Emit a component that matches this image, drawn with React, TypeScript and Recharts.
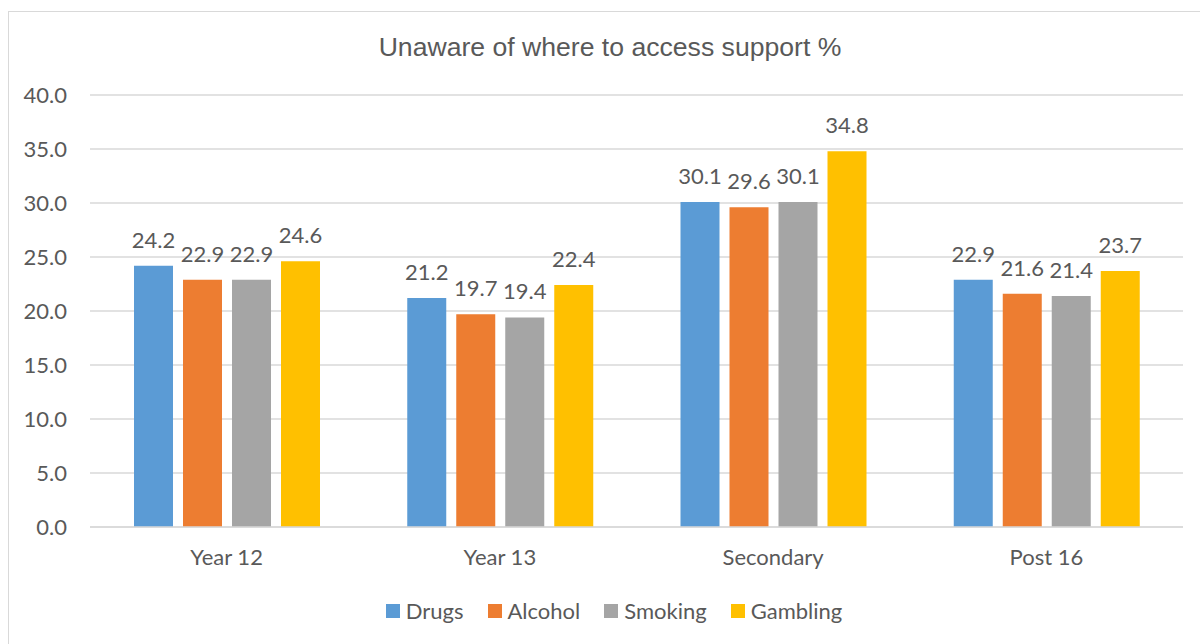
import { BarChart, Bar, XAxis, YAxis, CartesianGrid, LabelList } from "recharts";

const categories = ["Year 12", "Year 13", "Secondary", "Post 16"];
const drugs = [24.2, 21.2, 30.1, 22.9];
const alcohol = [22.9, 19.7, 29.6, 21.6];
const smoking = [22.9, 19.4, 30.1, 21.4];
const gambling = [24.6, 22.4, 34.8, 23.7];
const yTicks = [0, 5, 10, 15, 20, 25, 30, 35, 40];

const SERIES = [
  { key: "drugs", name: "Drugs", color: "#5B9BD5" },
  { key: "alcohol", name: "Alcohol", color: "#ED7D31" },
  { key: "smoking", name: "Smoking", color: "#A5A5A5" },
  { key: "gambling", name: "Gambling", color: "#FFC000" },
];

const TEXT = "#595959";
const GRID = "#D9D9D9";
const FONT = "Lato, 'Open Sans', sans-serif";

const chartData = categories.map((name, i) => ({
  name,
  drugs: drugs[i],
  alcohol: alcohol[i],
  smoking: smoking[i],
  gambling: gambling[i],
}));

// legend sits outside the svg so it doesn't eat into the plot height
function ChartLegend() {
  return (
    <div
      style={{
        position: "absolute",
        left: 0,
        width: 1228,
        top: 596,
        display: "flex",
        justifyContent: "center",
        gap: 24,
        fontFamily: FONT,
        fontSize: 22,
        lineHeight: "30px",
        color: TEXT,
      }}
    >
      {SERIES.map((s) => (
        <div key={s.key} style={{ display: "flex", alignItems: "center" }}>
          <span style={{ width: 14, height: 14, background: s.color, marginRight: 6, display: "inline-block" }} />
          <span>{s.name}</span>
        </div>
      ))}
    </div>
  );
}

export default function App() {
  return (
    <>
      <div
        style={{
          position: "absolute",
          left: 8,
          top: 11,
          width: 1220,
          height: 700,
          border: `1px solid ${GRID}`,
          boxSizing: "border-box",
        }}
      />
      <div style={{ position: "absolute", left: 0, top: 0, width: 1200, height: 644 }}>
        <div
          style={{
            position: "absolute",
            left: 0,
            width: 1220,
            top: 31,
            textAlign: "center",
            fontFamily: "'Liberation Sans', Arial, sans-serif",
            fontSize: 26.6,
            color: TEXT,
            lineHeight: "32px",
          }}
        >
          Unaware of where to access support %
        </div>
        <BarChart
          width={1200}
          height={644}
          data={chartData}
          margin={{ top: 95, right: 17, bottom: 87, left: 20 }}
          barSize={39}
          barGap={10}
        >
          <CartesianGrid vertical={false} stroke={GRID} strokeWidth={1.5} />
          <XAxis
            dataKey="name"
            height={30}
            axisLine={{ stroke: GRID, strokeWidth: 1.5 }}
            tickLine={false}
            tickSize={0}
            tickMargin={22}
            tick={{ fill: TEXT, fontSize: 22, fontFamily: FONT }}
          />
          <YAxis
            width={70}
            domain={[0, 40]}
            ticks={yTicks}
            axisLine={false}
            tickLine={false}
            tickSize={0}
            tickMargin={23}
            tickFormatter={(v: number) => v.toFixed(1)}
            tick={{ fill: TEXT, fontSize: 22, fontFamily: FONT }}
          />
          {SERIES.map((s) => (
            <Bar key={s.key} dataKey={s.key} name={s.name} fill={s.color} isAnimationActive={false}>
              <LabelList
                dataKey={s.key}
                position="top"
                offset={18}
                formatter={(v: number) => v.toFixed(1)}
                style={{ fill: TEXT, fontSize: 22, fontFamily: FONT }}
              />
            </Bar>
          ))}
        </BarChart>
        <ChartLegend />
      </div>
    </>
  );
}
